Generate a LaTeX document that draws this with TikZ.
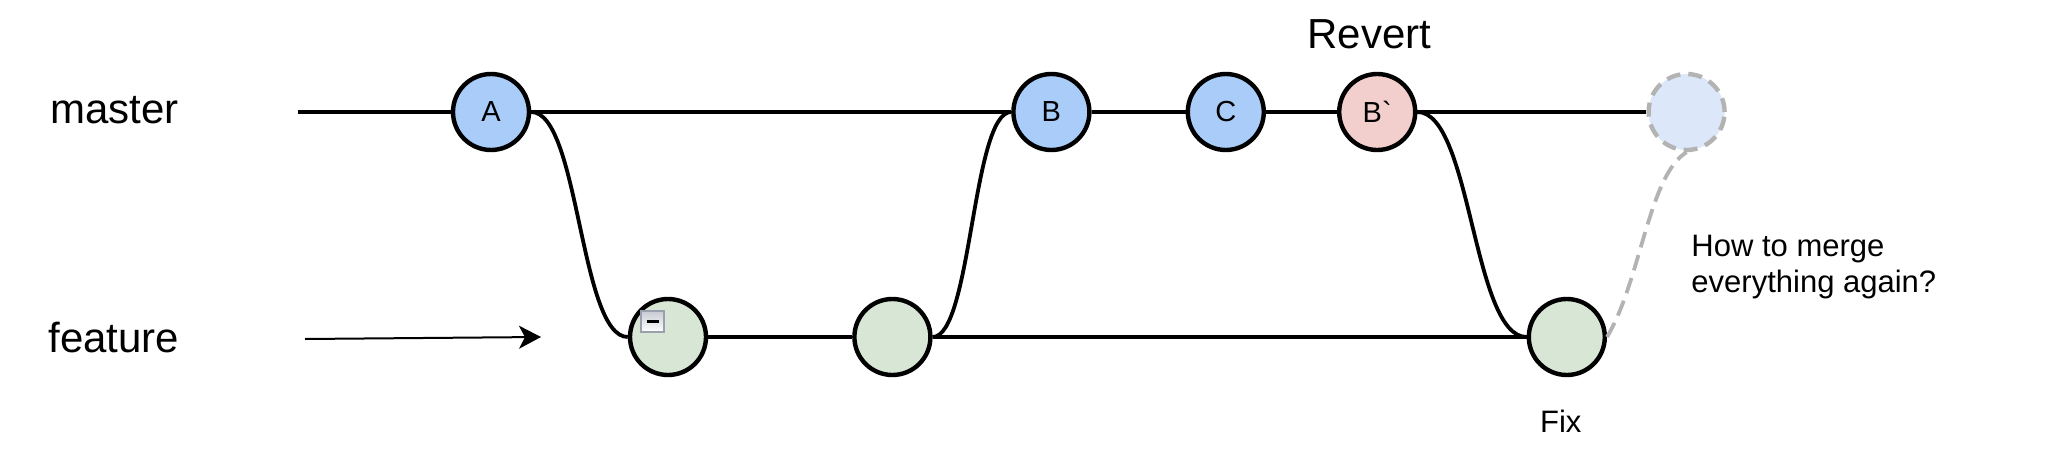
\documentclass[tikz,border=0pt]{standalone}
\usepackage{fontspec}
\setmainfont{Liberation Sans}
\usetikzlibrary{positioning,arrows.meta,backgrounds}

\begin{document}
\begin{tikzpicture}
      \definecolor{blue}{HTML}{A9CCF8}
      \definecolor{red}{HTML}{F2CFCC}
      \definecolor{green}{HTML}{D8E6D6}
      \definecolor{lightblue}{HTML}{DCE8FA}
      \definecolor{dashgray}{HTML}{B3B3B3}
      \definecolor{icongray}{HTML}{9AA0AE}

      \newcommand{\branchfont}[0]{\fontsize{21}{25}\selectfont}
      \newcommand{\notefont}[0]{\fontsize{15.5}{18}\selectfont}

      \tikzstyle{commit} = [circle, draw = black, line width=2.2pt, minimum size=38pt, inner sep=0pt, font=\fontsize{14.5}{16}\selectfont]
      \tikzstyle{branch} = [line width=2.3pt]
      \tikzstyle{fork}   = [line width=1.9pt]

      \useasboundingbox (0pt,0pt) rectangle (1031pt,-233pt);

      \node [commit, fill = blue] at (245.5pt,-56pt)  (a)     {A};
      \node [commit, fill = blue, right = 240pt of a   ] (b)     {B};
      \node [commit, fill = blue, right = 47pt of b    ] (c)     {C};
      \node [commit, fill = red,  right = 35.5pt of c  ] (brev)  {B\textasciigrave};
      \node [commit, fill = lightblue, draw = dashgray, dash pattern=on 7pt off 4pt, right = 114.5pt of brev] (ghost) {};

      \node [commit, fill = green] at (334pt,-168.5pt) (work)  {};
      \node [commit, fill = green, right = 72pt of work ] (work2) {};
      \node [commit, fill = green, right = 297pt of work2] (fix)   {};

      \coordinate (masterstart) at (149pt,-56pt);
      \coordinate (arrowtail)   at (152.5pt,-169.5pt);
      \coordinate (arrowtip)    at (270.5pt,-168.5pt);

      % branches
      \draw [branch] (masterstart) -- (a) -- (b) -- (c) -- (brev) -- (ghost);
      \draw [branch] (work) -- (work2) -- (fix);

      % forks and merges
      \draw [fork] (a.east)     .. controls +(24pt,0) and +(-24pt,0) .. (work.west);
      \draw [fork] (work2.east) .. controls +(19.5pt,0) and +(-19.5pt,0) .. (b.west);
      \draw [fork] (brev.east)  .. controls +(27pt,0) and +(-27pt,0) .. (fix.west);
      \draw [dashgray, line width=1.9pt, dash pattern=on 8pt off 4pt] (fix.east) .. controls +(17pt,28.5pt) and +(-19pt,-11.5pt) .. (ghost.south);

      \draw [line width=1pt, -{Stealth[length=11pt, width=11.5pt, inset=3pt]}] (arrowtail) -- (arrowtip);

      % collapse icon
      \node [rectangle, draw = icongray, line width=1pt, top color=icongray!55, bottom color=white, minimum width=11.5pt, minimum height=10.5pt, inner sep=0pt] at (326.25pt,-160.75pt) (collapse) {};
      \draw [line width=1.2pt] ([xshift=-3pt]collapse.center) -- ([xshift=3pt]collapse.center);

      \node [anchor=base west, inner sep=0pt, font=\branchfont] at (25pt,-61.5pt) (masterlabel)  {master};
      \node [anchor=base west, inner sep=0pt, font=\branchfont] at (24pt,-176pt)  (featurelabel) {feature};
      \node [above = 7.7pt of brev, xshift=-4pt, font=\branchfont] (revertlabel) {Revert};
      \node [below = 13pt of fix, xshift=-3pt, font=\notefont]     (fixlabel)    {Fix};
      \node [anchor=north west, align=left, font=\notefont] at (842.2pt,-114pt) (question) {How to merge\\everything again?};
    \end{tikzpicture}
\end{document}
